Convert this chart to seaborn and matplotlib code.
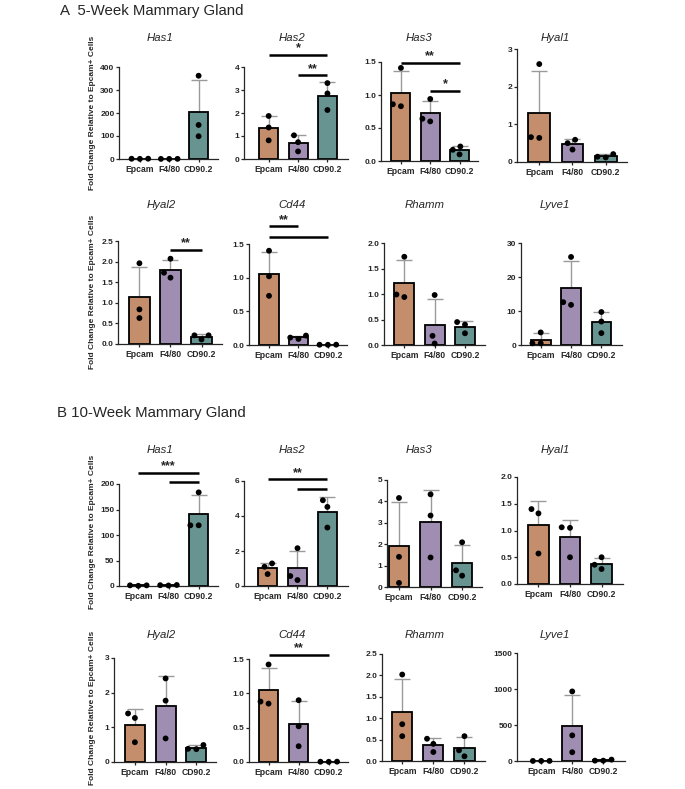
import numpy as np
import pandas as pd
import matplotlib
matplotlib.use("Agg")
import matplotlib.pyplot as plt
from matplotlib.collections import PathCollection
import seaborn as sns

# ---------------- data ----------------
cats = ["Epcam", "F4/80", "CD90.2"]
colors = ["#D38A5E", "#A088B8", "#5F9C98"]
genes = ["Has1", "Has2", "Has3", "Hyal1", "Hyal2", "Cd44", "Rhamm", "Lyve1"]

# 5-week (A): per group replicate values
a_has1 = [[0.6, 1.3, 1.1], [0.4, 0.7, 0.5], [362, 148, 99]]
a_has2 = [[1.87, 1.37, 0.81], [1.03, 0.73, 0.33], [3.30, 2.85, 2.13]]
a_has3 = [[1.41, 0.83, 0.86], [0.94, 0.60, 0.64], [0.22, 0.17, 0.10]]
a_hyal1 = [[2.60, 0.64, 0.66], [0.59, 0.50, 0.33], [0.12, 0.21, 0.14]]
a_hyal2 = [[1.96, 0.84, 0.63], [2.07, 1.73, 1.61], [0.21, 0.21, 0.11]]
a_cd44 = [[1.40, 1.02, 0.73], [0.14, 0.11, 0.09], [0.004, 0.003, 0.005]]
a_rhamm = [[1.73, 0.94, 0.99], [0.98, 0.18, 0.03], [0.45, 0.40, 0.23]]
a_lyve1 = [[3.7, 0.5, 0.5], [25.9, 11.8, 12.6], [9.7, 6.9, 3.5]]

# 10-week (B)
b_has1 = [[0.4, 1.3, 1.3], [1.6, 2.0, 1.0], [183.6, 119, 119]]
b_has2 = [[1.29, 1.10, 0.68], [2.16, 0.34, 0.57], [4.90, 4.52, 3.34]]
b_has3 = [[4.16, 1.41, 0.19], [4.33, 3.34, 1.38], [2.09, 0.78, 0.53]]
b_hyal1 = [[1.40, 1.32, 0.57], [1.06, 1.05, 0.50], [0.50, 0.36, 0.28]]
b_hyal2 = [[1.40, 1.27, 0.57], [2.41, 1.77, 0.68], [0.49, 0.38, 0.37]]
b_cd44 = [[1.42, 0.88, 0.85], [0.90, 0.52, 0.23], [0.004, 0.003, 0.005]]
b_rhamm = [[2.02, 0.86, 0.58], [0.52, 0.40, 0.21], [0.58, 0.25, 0.11]]
b_lyve1 = [[1.2, 0.9, 0.9], [966, 356, 122], [5, 19, 5]]

# significance brackets: (group i, group j, height, label)
a_sig_has2 = [(0, 2, 4.53, "*"), (1, 2, 3.64, "**")]
a_sig_has3 = [(0, 2, 1.49, "**"), (1, 2, 1.06, "*")]
a_sig_hyal2 = [(1, 2, 2.29, "**")]
a_sig_cd44 = [(0, 1, 1.76, "**"), (0, 2, 1.61, "")]
b_sig_has1 = [(0, 2, 222, "***"), (1, 2, 204, "")]
b_sig_has2 = [(0, 2, 6.09, "**"), (1, 2, 5.54, "")]
b_sig_cd44 = [(0, 2, 1.56, "**")]

# axis max and tick step per panel
a_ymax = [400, 4, 1.5, 3, 2.5, 1.5, 2.0, 30]
a_step = [100, 1, 0.5, 1, 0.5, 0.5, 0.5, 10]
b_ymax = [200, 6, 5, 2.0, 3, 1.5, 2.5, 1500]
b_step = [50, 2, 1, 0.5, 1, 0.5, 0.5, 500]

a_vals = [a_has1, a_has2, a_has3, a_hyal1, a_hyal2, a_cd44, a_rhamm, a_lyve1]
b_vals = [b_has1, b_has2, b_has3, b_hyal1, b_hyal2, b_cd44, b_rhamm, b_lyve1]
a_sigs = [[], a_sig_has2, a_sig_has3, [], a_sig_hyal2, a_sig_cd44, [], []]
b_sigs = [b_sig_has1, b_sig_has2, [], [], [], b_sig_cd44, [], []]

# ---------------- layout (pixels) ----------------
W, H = 685, 789
# (left, right, top, bottom) of the axes box
a_boxes = [(119, 218, 67, 159), (244, 348, 67, 159), (381, 478, 62, 161), (517, 627, 49, 162),
           (118, 222, 241, 344), (249, 347, 244, 345), (384, 485, 243, 345), (521, 622, 243, 345)]
b_boxes = [(119, 218, 484, 586), (244, 348, 481, 586), (387, 482, 480, 587), (517, 623, 477, 584),
           (114, 216, 658, 762), (249, 348, 659, 762), (382, 485, 654, 761), (517, 625, 653, 761)]
# x padding (in category units) left of first and right of last group
a_xpad = [(0.71, 0.66), (0.84, 0.70), (0.68, 0.63), (0.67, 0.64),
          (0.69, 0.66), (0.68, 0.65), (0.67, 0.66), (0.65, 0.68)]
b_xpad = [(0.64, 0.64), (0.79, 0.69), (0.38, 0.63), (0.68, 0.68),
          (0.68, 0.64), (0.65, 0.64), (0.65, 0.66), (0.78, 0.70)]
title_x = [160, 292, 419, 555, 161, 292, 425, 555]
a_title_y = [38, 38, 38, 38, 205, 205, 205, 205]
b_title_y = [450, 450, 450, 450, 635, 635, 635, 635]

sns.set_style("ticks")
plt.rcParams["font.family"] = ["Liberation Sans", "DejaVu Sans"]
plt.rcParams["axes.linewidth"] = 0.9

fig = plt.figure(figsize=(W / 100, H / 100), dpi=100)


def draw(gene, vals, sig, box, xpad, ymax, step, tx, ty):
    l, r, t, b = box
    ax = fig.add_axes([l / W, 1 - b / H, (r - l) / W, (b - t) / H])
    df = pd.DataFrame({"group": np.repeat(cats, 3), "value": np.concatenate(vals)})
    sns.barplot(data=df, x="group", y="value", hue="group", order=cats, hue_order=cats,
                palette=colors, errorbar=None, width=0.65, edgecolor="black",
                linewidth=1.3, legend=False, ax=ax, zorder=2)
    stats = df.groupby("group", sort=False)["value"].agg(["mean", "std"]).reindex(cats)
    ax.errorbar(np.arange(3), stats["mean"].values,
                yerr=[np.zeros(3), stats["std"].values], fmt="none",
                ecolor="#9a9a9a", elinewidth=1.0, capsize=5.5, capthick=1.0, zorder=1.5)
    xl = (-xpad[0], 2 + xpad[1])
    ax.set_xlim(*xl)
    ax.set_ylim(0, ymax)
    sns.swarmplot(data=df, x="group", y="value", order=cats, color="black",
                  size=4.2, ax=ax, zorder=4)
    for c in ax.collections:
        c.set_clip_on(False)
        if isinstance(c, PathCollection):
            # invisible edge widens the swarm spacing a little, like Prism's layout
            c.set_edgecolor("none")
            c.set_linewidth(1.5)
    ax.set_xlim(*xl)
    ax.set_ylim(0, ymax)
    ticks = np.arange(0, ymax + step / 2, step)
    ax.set_yticks(ticks)
    dec = 1 if step < 1 else 0
    ax.set_yticklabels([f"{v:.{dec}f}" for v in ticks], fontsize=6.0, fontweight="bold")
    ax.set_xticks(range(3))
    ax.set_xticklabels(cats, fontsize=6.2, fontweight="bold")
    ax.set_xlabel("")
    ax.set_ylabel("")
    sns.despine(ax=ax)
    ax.tick_params(axis="y", length=2.5, width=0.9, pad=0.8)
    ax.tick_params(axis="x", length=2.5, width=0.9, pad=2.0)
    for i, j, y, s in sig:
        ax.plot([i, j], [y, y], color="black", lw=1.8, clip_on=False,
                solid_capstyle="butt", zorder=5)
        if s:
            ax.annotate(s, xy=((i + j) / 2, y), xytext=(0, 0.3), textcoords="offset points",
                        ha="center", va="bottom", fontsize=9, fontweight="bold",
                        annotation_clip=False)
    fig.text(tx / W, 1 - ty / H, gene, ha="center", va="center", fontsize=8.2,
             style="italic")


for k in range(8):
    draw(genes[k], a_vals[k], a_sigs[k], a_boxes[k], a_xpad[k], a_ymax[k], a_step[k],
         title_x[k], a_title_y[k])
    draw(genes[k], b_vals[k], b_sigs[k], b_boxes[k], b_xpad[k], b_ymax[k], b_step[k],
         title_x[k], b_title_y[k])

ylab = "Fold Change Relative to Epcam+ Cells"
for yc in [113, 292, 532, 708]:
    fig.text(92 / W, 1 - yc / H, ylab, rotation=90, ha="center", va="center",
             fontsize=6.0, fontweight="bold")

fig.text(60 / W, 1 - 11 / H, "A  5-Week Mammary Gland", ha="left", va="center", fontsize=10.8)
fig.text(57 / W, 1 - 413 / H, "B 10-Week Mammary Gland", ha="left", va="center", fontsize=10.8)

fig.savefig("out.png", dpi=100)
